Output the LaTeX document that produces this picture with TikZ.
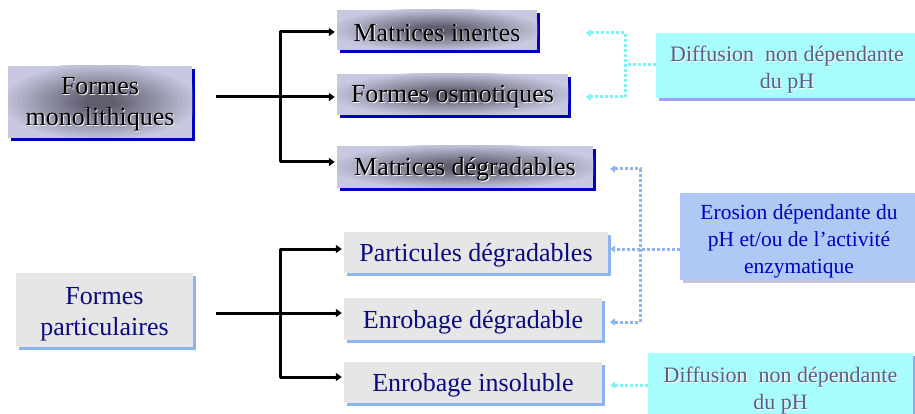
\documentclass[tikz,border=0pt]{standalone}
\usepackage{fontspec}
\setmainfont{Liberation Serif}
\usetikzlibrary{arrows.meta,shadows,calc}
\definecolor{lav}{HTML}{C8C8E0}
\definecolor{gcen}{HTML}{5E5E6E}
\definecolor{dblue}{HTML}{0000C0}
\definecolor{lblue}{HTML}{8CB4F0}
\definecolor{navy}{HTML}{0A0A80}
\definecolor{grayfill}{HTML}{E6E6E6}
\definecolor{cyanfill}{HTML}{A8FCFC}
\definecolor{cyanline}{HTML}{80F0F8}
\definecolor{erofill}{HTML}{B0C8F4}
\definecolor{eroline}{HTML}{90B4F0}
\definecolor{difftext}{HTML}{5C5C8C}
\definecolor{erotext}{HTML}{0000C0}
\definecolor{diffshadow}{HTML}{A0A0F8}
\definecolor{eroshadow}{HTML}{C4C4E0}
\newcommand\shtxt[2]{\makebox[0pt][l]{\hspace{0.9pt}\raisebox{-0.9pt}{\textcolor{#1}{#2}}}#2}
\tikzset{
  glowfill/.style={fill=lav, path picture={
    \foreach \k in {0,...,21} {
      \pgfmathsetmacro\rr{1.1-0.05*\k}
      \pgfmathsetmacro\pc{min(100,120*(1-\rr/1.1))}
      \fill[gcen!\pc!lav] let \p1=(path picture bounding box.north east), \p2=(path picture bounding box.center) in
        (\p2) ellipse [x radius={\rr*(\x1-\x2)}, y radius={\rr*(\y1-\y2)}];
    }}},
  topbox/.style={glowfill, drop shadow={shadow xshift=3pt, shadow yshift=-3pt, fill=dblue, opacity=1}, inner sep=0pt},
  partbox/.style={fill=grayfill, drop shadow={shadow xshift=3pt, shadow yshift=-3pt, fill=lblue, opacity=1}, inner sep=0pt},
  diffbox/.style={fill=cyanfill, drop shadow={shadow xshift=3pt, shadow yshift=-3pt, fill=diffshadow, opacity=1}, inner sep=0pt},
  erobox/.style={fill=erofill, drop shadow={shadow xshift=3pt, shadow yshift=-3pt, fill=eroshadow, opacity=1}, inner sep=0pt},
  toptext/.style={inner sep=0pt, align=center, font=\fontsize{26}{31}\selectfont, text=black},
  parttext/.style={inner sep=0pt, align=center, font=\fontsize{26}{31}\selectfont, text=navy},
  difftextst/.style={inner sep=0pt, align=center, font=\fontsize{22}{27}\selectfont, text=difftext},
  erotextst/.style={inner sep=0pt, align=center, font=\fontsize{21.5}{27}\selectfont, text=erotext},
  blk/.style={line width=3pt, black, line join=round},
  tip/.style={-{Triangle[length=6pt,width=8pt]}},
  tips/.style={{Triangle[length=6pt,width=8pt]}-{Triangle[length=6pt,width=8pt]}},
  dotc/.style={line width=3pt, dash pattern=on 3pt off 2pt, cyanline},
  dote/.style={line width=3pt, dash pattern=on 3pt off 2pt, eroline},
  dtip/.style={-{Triangle[length=5pt,width=7pt]}},
  dtips/.style={{Triangle[length=5pt,width=7pt]}-{Triangle[length=5pt,width=7pt]}},
}
\begin{document}
\begin{tikzpicture}[x=1pt,y=1pt]
\useasboundingbox (0,0) rectangle (915,-414);
% boxes
\node[topbox, minimum width=184pt, minimum height=72pt] (mono) at (100,-102) {};
\node[topbox, minimum width=200pt, minimum height=40pt] (inertes) at (437,-30) {};
\node[topbox, minimum width=231pt, minimum height=41pt] (osmo) at (452.5,-94.5) {};
\node[topbox, minimum width=256pt, minimum height=42pt] (degr) at (465,-167) {};
\node[partbox, minimum width=177pt, minimum height=74pt] (part) at (104.5,-310) {};
\node[partbox, minimum width=264pt, minimum height=41pt] (partdeg) at (476,-252.5) {};
\node[partbox, minimum width=258pt, minimum height=42pt] (enrdeg) at (473,-319) {};
\node[partbox, minimum width=258pt, minimum height=41pt] (enrins) at (473,-382.5) {};
\node[diffbox, minimum width=262pt, minimum height=65pt] (diff1) at (787,-65.5) {};
\node[erobox, minimum width=238pt, minimum height=87pt] (eros) at (799,-236.5) {};
\node[diffbox, minimum width=265pt, minimum height=66pt] (diff2) at (780.5,-386) {};
% texts
\node[toptext] (monoT) at ([yshift=-3pt]mono.center) {\shtxt{white}{Formes}\\\shtxt{white}{monolithiques}};
\node[toptext] (inertesT) at ([yshift=-3pt]inertes.center) {\shtxt{white}{Matrices inertes}};
\node[toptext] (osmoT) at ([yshift=-3pt]osmo.center) {\shtxt{white}{Formes osmotiques}};
\node[toptext] (degrT) at ([yshift=-3pt]degr.center) {\shtxt{white}{Matrices dégradables}};
\node[parttext] (partT) at ([yshift=-4pt]part.center) {Formes\\particulaires};
\node[parttext] (partdegT) at ([yshift=-3pt]partdeg.center) {Particules dégradables};
\node[parttext] (enrdegT) at ([yshift=-3pt]enrdeg.center) {Enrobage dégradable};
\node[parttext] (enrinsT) at ([yshift=-3pt]enrins.center) {Enrobage insoluble};
\node[difftextst] (diff1T) at ([yshift=-5pt]diff1.center) {\shtxt{white}{Diffusion~ non dépendante}\\\shtxt{white}{du pH}};
\node[erotextst] (erosT) at ([yshift=-5pt]eros.center) {Erosion dépendante du\\pH et/ou de l’activité\\enzymatique};
\node[difftextst] (diff2T) at ([yshift=-5pt]diff2.center) {\shtxt{white}{Diffusion~ non dépendante}\\\shtxt{white}{du pH}};
% coordinates
\coordinate (m0) at (216,-97);
\coordinate (t1) at (280,-32);
\coordinate (t2) at (280,-97);
\coordinate (t3) at (280,-162);
\coordinate (b0) at (216,-313);
\coordinate (u1) at (280,-249);
\coordinate (u2) at (280,-313);
\coordinate (u3) at (280,-377);
% black connectors
\draw[blk, tips] ([xshift=-2pt]t1 -| inertes.west) -- (t1) -- (t3) -- ([xshift=-2pt]t3 -| degr.west);
\draw[blk, tip] (m0) -- ([xshift=-2pt]t2 -| osmo.west);
\draw[blk, tips] ([xshift=-2pt]u1 -| partdeg.west) -- (u1) -- (u3) -- ([xshift=-2pt]u3 -| enrins.west);
\draw[blk, tip] (b0) -- ([xshift=-2pt]u2 -| enrdeg.west);
% cyan top
\coordinate (c0) at (625,-65);
\coordinate (c1) at (625,-33);
\coordinate (c2) at (625,-97);
\coordinate (a1) at (586,-33);
\coordinate (a2) at (586,-97);
\draw[dotc, dtips] (a1) -- (c1) -- (c2) -- (a2);
\draw[dotc] (diff1.west |- c0) -- (c0);
% erosion
\coordinate (e1) at (640,-169);
\coordinate (e2) at (640,-322);
\coordinate (a3) at (610,-169);
\coordinate (a4) at (610,-322);
\coordinate (eh) at (640,-249);
\draw[dote, dtips] (a3) -- (e1) -- (e2) -- (a4);
\draw[dote, dtip] (eros.west |- eh) -- ([xshift=2pt]partdeg.east |- eh);
% bottom diffusion
\coordinate (fh) at (630,-385);
\draw[dotc, dtip] (diff2.west |- fh) -- ([xshift=8pt]enrins.east |- fh);
\end{tikzpicture}
\end{document}
